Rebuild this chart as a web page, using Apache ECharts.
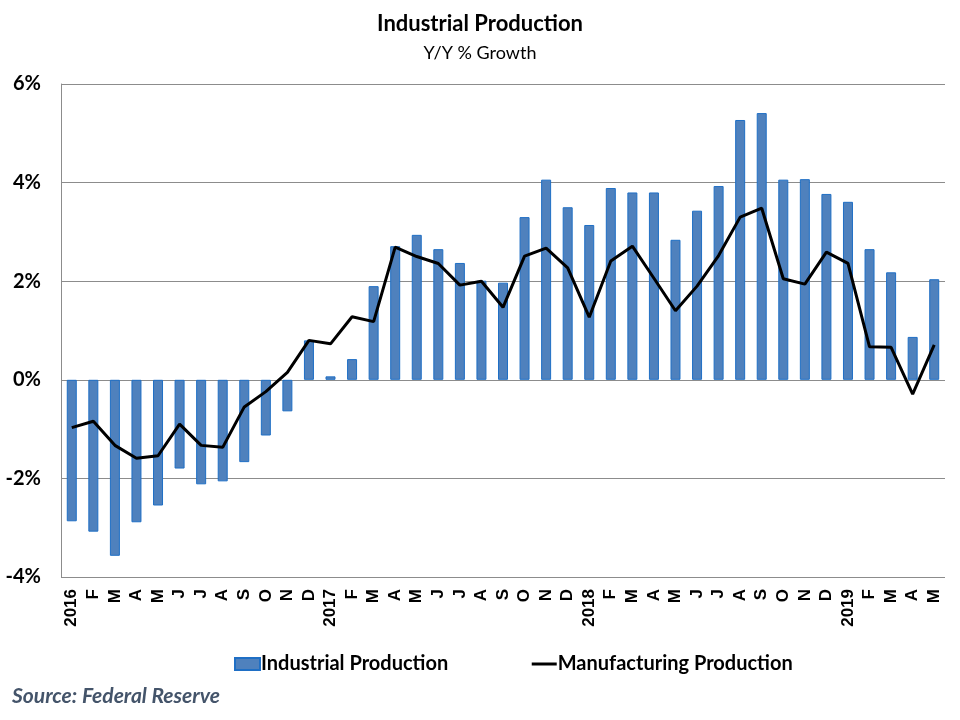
<!DOCTYPE html>
<html>
<head>
<meta charset="utf-8">
<script src="https://cdn.jsdelivr.net/npm/echarts@6/dist/echarts.min.js"></script>
<style>
  html, body { margin: 0; padding: 0; background: #fff; }
  #chart { width: 960px; height: 720px; }
</style>
</head>
<body>
<div id="chart"></div>
<script>
// month labels, Jan 2016 .. May 2019
const months = [
  "2016", "F", "M", "A", "M", "J", "J", "A", "S", "O", "N", "D",
  "2017", "F", "M", "A", "M", "J", "J", "A", "S", "O", "N", "D",
  "2018", "F", "M", "A", "M", "J", "J", "A", "S", "O", "N", "D",
  "2019", "F", "M", "A", "M"
];

// Y/Y % growth
const industrial = [
  -2.87, -3.08, -3.57, -2.89, -2.55, -1.80, -2.12, -2.06, -1.67, -1.13, -0.64, 0.80,
  0.07, 0.42, 1.90, 2.71, 2.94, 2.65, 2.37, 2.01, 1.97, 3.30, 4.06, 3.50,
  3.14, 3.89, 3.80, 3.80, 2.84, 3.43, 3.93, 5.27, 5.41, 4.06, 4.07, 3.77,
  3.61, 2.65, 2.18, 0.87, 2.04
];

const manufacturing = [
  -0.97, -0.84, -1.33, -1.59, -1.54, -0.90, -1.33, -1.37, -0.55, -0.24, 0.15, 0.80,
  0.73, 1.28, 1.18, 2.69, 2.50, 2.36, 1.92, 2.00, 1.47, 2.51, 2.67, 2.27,
  1.27, 2.41, 2.71, 2.06, 1.40, 1.90, 2.52, 3.30, 3.48, 2.05, 1.94, 2.59,
  2.36, 0.67, 0.66, -0.29, 0.71
];

const yTicks = [-4, -2, 0, 2, 4, 6];

const chart = echarts.init(document.getElementById("chart"));

const option = {
  animation: false,
  backgroundColor: "#fff",
  title: {
    text: "Industrial Production",
    subtext: "Y/Y % Growth",
    left: "center",
    top: 8,
    itemGap: 9,
    textStyle: { fontFamily: "Lato", fontSize: 22, fontWeight: "bold", color: "#000" },
    subtextStyle: { fontFamily: "Lato", fontSize: 18, color: "#000" }
  },
  legend: {
    left: 229,
    top: 649,
    itemGap: 82,
    itemWidth: 25,
    itemHeight: 12,
    textStyle: { fontFamily: "Lato", fontSize: 20, fontWeight: "bold", color: "#000", padding: [0, 0, 0, -4] },
    data: [
      { name: "Industrial Production", icon: "rect" },
      {
        name: "Manufacturing Production",
        itemStyle: { color: "rgba(0,0,0,0)", borderWidth: 0 },
        lineStyle: { color: "#000", width: 3 }
      }
    ]
  },
  grid: { left: 61, right: 15, top: 84, bottom: 143 },
  xAxis: {
    type: "category",
    data: months,
    boundaryGap: true,
    axisLine: { show: false },
    axisTick: { show: false },
    axisLabel: {
      interval: 0,
      rotate: 90,
      margin: 12,
      fontFamily: "Liberation Sans",
      fontSize: 17,
      fontWeight: "bold",
      color: "#000"
    }
  },
  yAxis: {
    type: "value",
    min: yTicks[0],
    max: yTicks[yTicks.length - 1],
    interval: 2,
    axisLine: { show: true, lineStyle: { color: "#8c8c8c", width: 1 } },
    axisTick: { show: false },
    splitLine: { lineStyle: { color: "#8c8c8c", width: 1 } },
    axisLabel: {
      margin: 20,
      fontFamily: "Lato",
      fontSize: 20,
      fontWeight: "bold",
      color: "#000",
      formatter: "{value}%"
    }
  },
  series: [
    {
      name: "Industrial Production",
      type: "bar",
      data: industrial,
      barWidth: 10,
      itemStyle: { color: "#4F81BD", borderColor: "#1f6fc5", borderWidth: 1 }
    },
    {
      name: "Manufacturing Production",
      type: "line",
      data: manufacturing,
      symbol: "none",
      lineStyle: { color: "#000", width: 3 },
      itemStyle: { color: "#000" }
    }
  ],
  graphic: [
    {
      type: "text",
      left: 12,
      top: 686,
      style: {
        text: "Source: Federal Reserve",
        fontFamily: "Lato",
        fontSize: 21,
        fontStyle: "italic",
        fontWeight: "bold",
        fill: "#44546A"
      }
    }
  ]
};

chart.setOption(option);
</script>
</body>
</html>
